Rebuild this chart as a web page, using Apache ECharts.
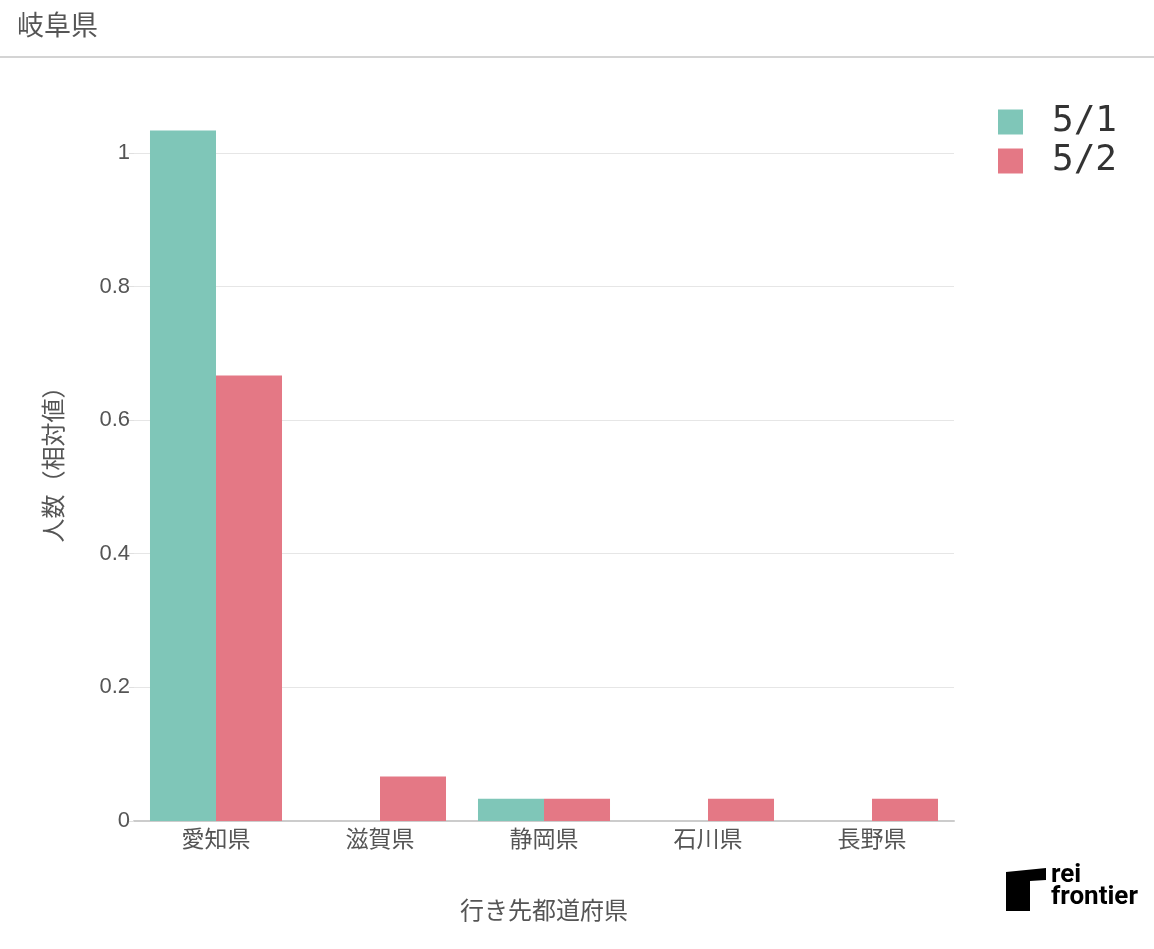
<!DOCTYPE html>
<html><head><meta charset="utf-8">
<script src="https://cdn.jsdelivr.net/npm/echarts@6/dist/echarts.min.js"></script>
<style>html,body{margin:0;padding:0;background:#fff}#c{width:1154px;height:949px}</style>
</head><body><div id="c"></div>
<script>
const categories = ['愛知県','滋賀県','静岡県','石川県','長野県'];
const seriesNames = ['5/1','5/2'];
const values51 = [1.0333, 0, 0.0333, 0, 0];
const values52 = [0.6667, 0.0667, 0.0333, 0.0333, 0.0333];
const colors = ['#7fc6b8','#e47885'];
const chart = echarts.init(document.getElementById('c'));
const font = '"Noto Sans CJK JP", "Noto Sans", sans-serif';
chart.setOption({
  animation:false,
  textStyle:{fontFamily:font},
  grid:{left:134,right:200,top:96,bottom:128},
  legend:{
    orient:'vertical', left:993, top:99, itemWidth:25, itemHeight:25, itemGap:3,
    icon:'rect',
    textStyle:{fontFamily:'"DejaVu Sans Mono", monospace', fontSize:36, lineHeight:36, color:'#333', padding:[0,0,0,24]},
    data:seriesNames
  },
  xAxis:{
    type:'category', data:categories,
    name:'行き先都道府県', nameLocation:'middle', nameGap:77,
    nameTextStyle:{fontSize:24, color:'#555'},
    axisLine:{lineStyle:{color:'#cccccc', width:2}},
    axisTick:{show:false},
    axisLabel:{fontSize:23, color:'#555', margin:6}
  },
  yAxis:{
    type:'value', min:0, max:1.085, interval:0.2,
    name:'人数（相対値）', nameLocation:'middle', nameGap:69, nameRotate:90,
    nameTextStyle:{fontSize:24, color:'#555'},
    axisLine:{show:false},
    axisTick:{show:true, length:5, lineStyle:{color:'#e0e0e0'}},
    axisLabel:{fontSize:22, color:'#555', margin:4, showMaxLabel:false, fontFamily:'"Liberation Sans", Arial, sans-serif',
      formatter:v=> v===0?'0':(Math.round(v*10)/10).toString()},
    splitLine:{showMaxLine:false, lineStyle:{color:'#e6e6e6', width:1}}
  },
  series:[
    {name:seriesNames[0], type:'bar', data:values51, itemStyle:{color:colors[0]}, barGap:'0%', barCategoryGap:'19.5%'},
    {name:seriesNames[1], type:'bar', data:values52, itemStyle:{color:colors[1]}, barGap:'0%', barCategoryGap:'19.5%'}
  ],
  graphic:[
    {type:'text', left:17, top:11, style:{text:'岐阜県', fontSize:27, fill:'#555', fontFamily:font}},
    {type:'rect', shape:{x:0,y:56,width:1154,height:2}, style:{fill:'#d4d4d4'}},
    {type:'polygon', shape:{points:[[1006,872],[1046,868],[1046,880],[1030,881],[1030,911],[1006,911]]}, style:{fill:'#000'}},
    {type:'text', left:1051, top:862, style:{text:'rei', fontSize:26, fontWeight:'bold', fill:'#000', fontFamily:'Roboto, sans-serif'}},
    {type:'text', left:1051, top:884, style:{text:'frontier', fontSize:26, fontWeight:'bold', fill:'#000', fontFamily:'Roboto, sans-serif'}}
  ]
});
</script></body></html>
